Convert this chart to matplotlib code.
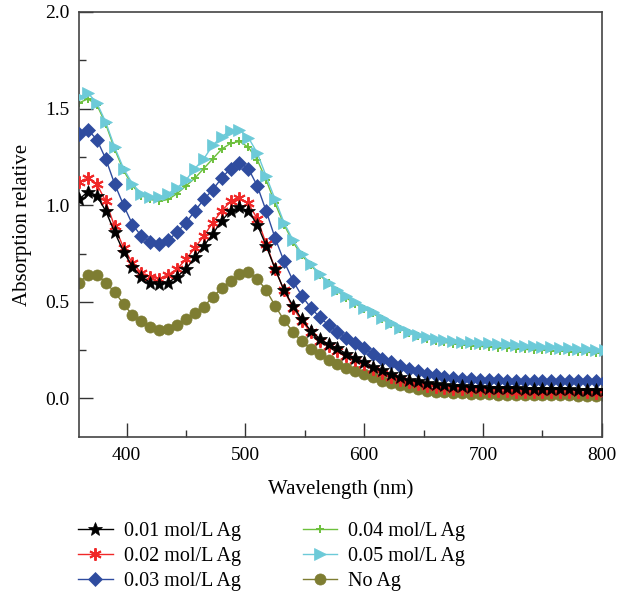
import matplotlib
matplotlib.use("Agg")
import matplotlib.pyplot as plt
import numpy as np

# wavelength grid (nm), one reading every 7.5 nm
wavelength = np.arange(360, 803, 7.5)

ag_001 = [1.03, 1.07, 1.05, 0.97, 0.86, 0.76, 0.68, 0.63, 0.60, 0.59,
          0.60, 0.63, 0.67, 0.73, 0.79, 0.85, 0.92, 0.97, 0.99, 0.97,
          0.90, 0.79, 0.67, 0.56, 0.48, 0.41, 0.35, 0.31, 0.28, 0.26,
          0.23, 0.21, 0.19, 0.165, 0.145, 0.125, 0.11, 0.097, 0.088, 0.08,
          0.075, 0.07, 0.066, 0.063, 0.06, 0.058, 0.056, 0.055, 0.053, 0.052,
          0.051, 0.05, 0.049, 0.048, 0.047, 0.047, 0.046, 0.046, 0.045, 0.045]
ag_002 = [1.12, 1.14, 1.11, 1.02, 0.89, 0.78, 0.70, 0.65, 0.63, 0.62,
          0.64, 0.67, 0.72, 0.78, 0.84, 0.91, 0.97, 1.02, 1.035, 1.01,
          0.93, 0.80, 0.67, 0.56, 0.47, 0.40, 0.345, 0.30, 0.27, 0.245,
          0.22, 0.20, 0.18, 0.155, 0.13, 0.11, 0.095, 0.083, 0.074, 0.066,
          0.06, 0.055, 0.05, 0.047, 0.044, 0.042, 0.04, 0.038, 0.037, 0.036,
          0.035, 0.034, 0.033, 0.033, 0.032, 0.032, 0.031, 0.031, 0.03, 0.03]
ag_003 = [1.37, 1.39, 1.34, 1.24, 1.11, 1.00, 0.90, 0.84, 0.81, 0.80,
          0.82, 0.86, 0.91, 0.97, 1.03, 1.08, 1.14, 1.19, 1.22, 1.19,
          1.10, 0.97, 0.83, 0.71, 0.61, 0.53, 0.47, 0.42, 0.38, 0.345,
          0.315, 0.285, 0.26, 0.23, 0.205, 0.188, 0.17, 0.155, 0.14, 0.128,
          0.12, 0.112, 0.106, 0.102, 0.099, 0.097, 0.095, 0.094, 0.093, 0.092,
          0.091, 0.09, 0.09, 0.089, 0.089, 0.088, 0.088, 0.088, 0.088, 0.088]
ag_004 = [1.53, 1.55, 1.52, 1.42, 1.29, 1.18, 1.10, 1.05, 1.03, 1.02,
          1.03, 1.06, 1.10, 1.14, 1.19, 1.24, 1.29, 1.32, 1.33, 1.30,
          1.235, 1.13, 1.01, 0.90, 0.81, 0.74, 0.69, 0.64, 0.595, 0.555,
          0.52, 0.49, 0.465, 0.44, 0.41, 0.385, 0.36, 0.34, 0.325, 0.31,
          0.30, 0.29, 0.283, 0.278, 0.274, 0.27, 0.266, 0.263, 0.26, 0.257,
          0.254, 0.252, 0.25, 0.247, 0.245, 0.243, 0.241, 0.239, 0.237, 0.236]
ag_005 = [1.56, 1.58, 1.53, 1.43, 1.30, 1.19, 1.11, 1.06, 1.04, 1.04,
          1.06, 1.09, 1.13, 1.19, 1.24, 1.31, 1.355, 1.385, 1.39, 1.35,
          1.27, 1.15, 1.03, 0.91, 0.82, 0.75, 0.695, 0.645, 0.60, 0.56,
          0.53, 0.50, 0.47, 0.445, 0.415, 0.39, 0.365, 0.345, 0.33, 0.318,
          0.31, 0.302, 0.297, 0.293, 0.29, 0.287, 0.285, 0.283, 0.28, 0.277,
          0.274, 0.271, 0.268, 0.265, 0.262, 0.26, 0.257, 0.255, 0.252, 0.25]
no_ag = [0.60, 0.64, 0.64, 0.60, 0.55, 0.49, 0.43, 0.40, 0.37, 0.355,
         0.357, 0.38, 0.41, 0.44, 0.475, 0.525, 0.57, 0.61, 0.645, 0.655,
         0.62, 0.56, 0.48, 0.405, 0.345, 0.295, 0.258, 0.228, 0.20, 0.18,
         0.16, 0.142, 0.127, 0.11, 0.093, 0.08, 0.068, 0.057, 0.047, 0.04,
         0.035, 0.031, 0.028, 0.026, 0.024, 0.022, 0.021, 0.02, 0.019, 0.018,
         0.018, 0.017, 0.017, 0.016, 0.016, 0.016, 0.015, 0.015, 0.015, 0.015]

labels = ["0.01 mol/L Ag", "0.02 mol/L Ag", "0.03 mol/L Ag",
          "0.04 mol/L Ag", "0.05 mol/L Ag", "No Ag"]

plt.rcParams["font.family"] = "Liberation Serif"

fig = plt.figure(figsize=(6.27, 5.98), dpi=100)
ax = fig.add_axes([0.126, 0.269, 0.834, 0.711])

# (data, color, marker, size, zorder)
styles = [
    (ag_001, "black", "*", 10, 6),
    (ag_002, "#f02828", (6, 2, 0), 9, 5),
    (ag_003, "#2f4c9f", "D", 7, 4),
    (ag_004, "#6cc03c", "+", 6, 2),
    (ag_005, "#6ccad8", ">", 9, 3),
    (no_ag, "#7e7d32", "o", 8, 1),
]

for (vals, col, mk, ms, z), lab in zip(styles, labels):
    thin = mk == "+" or isinstance(mk, tuple)
    ax.plot(wavelength, vals, color=col, lw=1, marker=mk, markersize=ms,
            markeredgewidth=1.4 if thin else 0.5, markeredgecolor=col,
            label=lab, zorder=z)

ax.set_xlim(360, 800)
ax.set_ylim(-0.2, 2.0)
ax.set_xticks([400, 500, 600, 700, 800])
ax.set_xticks([450, 550, 650, 750], minor=True)
ax.set_yticks([0.0, 0.5, 1.0, 1.5, 2.0])
ax.set_yticks([0.25, 0.75, 1.25, 1.75], minor=True)
ax.yaxis.set_major_formatter(matplotlib.ticker.FormatStrFormatter("%.1f"))
ax.tick_params(which="major", direction="in", length=10, width=1, labelsize=14,
               pad=7, colors="#333333", labelcolor="black")
ax.tick_params(which="minor", direction="in", length=5, width=1, colors="#333333")
for s in ax.spines.values():
    s.set_linewidth(1.2)
    s.set_color("#444444")

ax.set_xlabel("Wavelength (nm)", fontsize=15, labelpad=11)
ax.set_ylabel("Absorption relative", fontsize=15, labelpad=9)

ax.legend(loc="upper left", bbox_to_anchor=(0.112, 0.141), bbox_transform=fig.transFigure,
          ncol=2, frameon=False, fontsize=14.5, handlelength=1.7, handletextpad=0.55,
          columnspacing=3.1, labelspacing=0.3, borderaxespad=0)

fig.savefig("out.png", dpi=100)
